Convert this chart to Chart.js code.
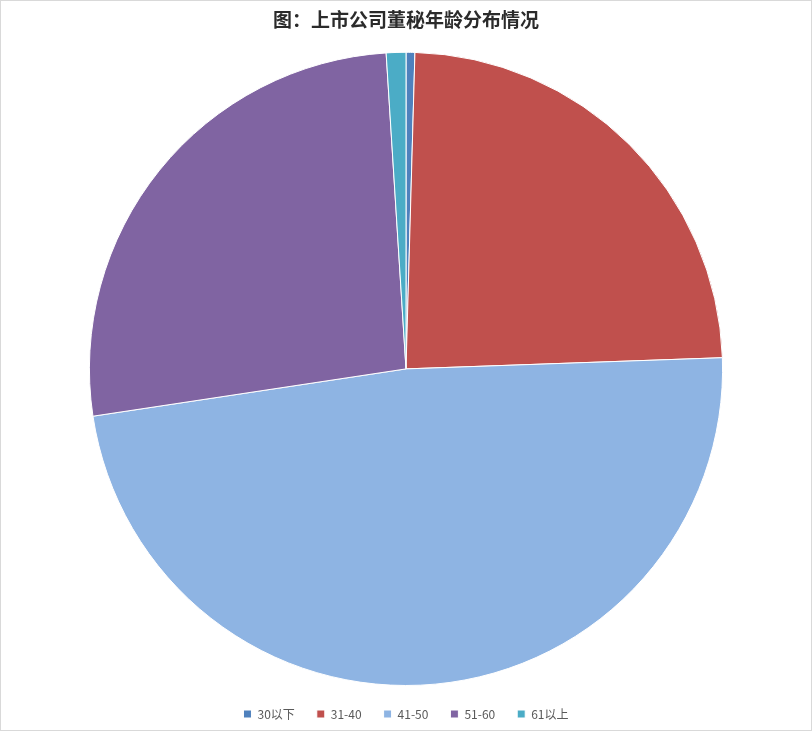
<!DOCTYPE html>
<html>
<head>
<meta charset="utf-8">
<script src="https://cdn.jsdelivr.net/npm/chart.js@4/dist/chart.umd.min.js"></script>
<style>
  html, body { margin: 0; padding: 0; background: #fff; }
  #wrap {
    width: 812px; height: 731px; box-sizing: border-box;
    border: 1px solid #D9D9D9; position: relative;
  }
</style>
</head>
<body>
<div id="wrap"><canvas id="chart"></canvas></div>
<script>
// ── data ──
const TITLE = '图：上市公司董秘年龄分布情况';
const AGE_GROUPS = ['30以下', '31-40', '41-50', '51-60', '61以上'];
const SHARES = [0.45, 24.0, 48.2, 26.4, 1.0];
const COLORS = ['#4F81BD', '#C0504D', '#8EB4E3', '#8064A2', '#4BACC6'];

const FONT = "'Noto Sans CJK SC', 'Noto Sans', sans-serif";

new Chart(document.getElementById('chart'), {
    type: 'pie',
    data: {
        labels: AGE_GROUPS,
        datasets: [{
            data: SHARES,
            backgroundColor: COLORS,
            borderColor: '#FFFFFF',
            borderWidth: 1,
        }],
    },
    options: {
        responsive: true,
        maintainAspectRatio: false,
        animation: false,
        layout: { padding: { left: 0, right: 0, top: 0, bottom: 0 } },
        plugins: {
            title: {
                display: true,
                text: TITLE,
                color: '#2B2B2B',
                font: { family: FONT, size: 19, weight: 'bold' },
                padding: { top: 7, bottom: 21 },
            },
            legend: {
                position: 'bottom',
                labels: {
                    color: '#595959',
                    font: { family: FONT, size: 12 },
                    boxWidth: 8,
                    boxHeight: 8,
                    padding: 22,
                },
            },
            tooltip: { enabled: false },
        },
    },
});
</script>
</body>
</html>
